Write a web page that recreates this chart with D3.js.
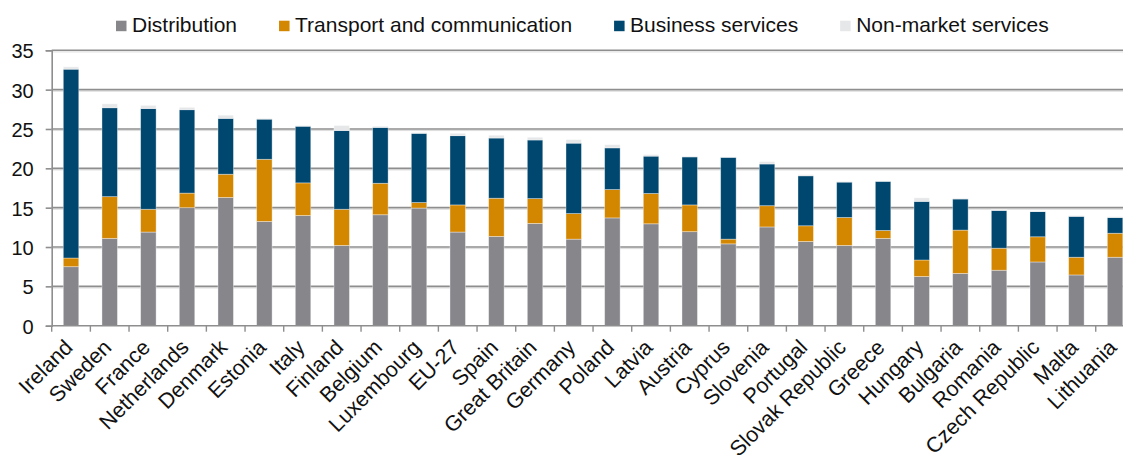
<!DOCTYPE html>
<html>
<head>
<meta charset="utf-8">
<script src="https://cdn.jsdelivr.net/npm/d3@7"></script>
<style>
  html, body { margin: 0; padding: 0; background: #ffffff; }
  svg { display: block; font-family: "Liberation Sans", Arial, Helvetica, sans-serif; }
</style>
</head>
<body>
<svg id="chart" width="1123" height="455"></svg>
<script>
// Countries, ordered by total services share
const countries = ["Ireland", "Sweden", "France", "Netherlands", "Denmark", "Estonia", "Italy",
  "Finland", "Belgium", "Luxembourg", "EU-27", "Spain", "Great Britain", "Germany", "Poland",
  "Latvia", "Austria", "Cyprus", "Slovenia", "Portugal", "Slovak Republic", "Greece", "Hungary",
  "Bulgaria", "Romania", "Czech Republic", "Malta", "Lithuania"];

// Series values per country (same order as countries)
const distribution = [7.5, 11.1, 11.9, 15.0, 16.3, 13.25, 14.0, 10.2, 14.1, 14.95, 11.9, 11.35,
  13.0, 11.0, 13.7, 12.95, 11.95, 10.4, 12.55, 10.7, 10.2, 11.1, 6.25, 6.65, 7.05, 8.1, 6.45, 8.7];
const transport = [1.1, 5.3, 2.9, 1.85, 2.95, 7.9, 4.15, 4.6, 4.0, 0.7, 3.45, 4.85,
  3.15, 3.25, 3.6, 3.85, 3.4, 0.6, 2.7, 2.0, 3.55, 1.0, 2.1, 5.5, 2.8, 3.2, 2.25, 3.05];
const business = [24.0, 11.3, 12.8, 10.6, 7.1, 5.1, 7.2, 10.0, 7.1, 8.8, 8.8, 7.65,
  7.45, 8.95, 5.3, 4.75, 6.1, 10.4, 5.3, 6.35, 4.5, 6.25, 7.45, 3.95, 4.8, 3.2, 5.2, 2.0];
const nonMarket = [0.3, 0.5, 0.4, 0.3, 0.4, 0.1, 0.1, 0.65, 0.15, 0.1, 0.3, 0.35,
  0.35, 0.45, 0.4, 0.2, 0.1, 0.05, 0.3, 0.15, 0.1, 0.05, 0.45, 0.1, 0.1, 0.1, 0.1, 0.1];

const seriesNames = ["Distribution", "Transport and communication", "Business services", "Non-market services"];
const seriesColors = ["#87868b", "#d38600", "#00476f", "#e6e7e9"];
const yTicks = [0, 5, 10, 15, 20, 25, 30, 35];

// Build the table for d3.stack
const keys = ["distribution", "transport", "business", "nonMarket"];
const table = countries.map((c, i) => ({
  country: c,
  distribution: distribution[i],
  transport: transport[i],
  business: business[i],
  nonMarket: nonMarket[i]
}));

const svg = d3.select("#chart");
const W = 1123, H = 455;
const plot = { left: 51.7, right: 1134.4, top: 50.3, bottom: 325.7 };

const x = d3.scaleBand()
  .domain(countries)
  .range([plot.left, plot.right])
  .paddingInner(0.6)
  .paddingOuter(0.3);

const y = d3.scaleLinear()
  .domain([0, 35])
  .range([plot.bottom, plot.top]);

const color = d3.scaleOrdinal().domain(keys).range(seriesColors);

svg.append("defs").append("clipPath").attr("id", "clip")
  .append("rect").attr("x", 0).attr("y", 0).attr("width", W).attr("height", H);

const g = svg.append("g").attr("clip-path", "url(#clip)");

// Horizontal gridlines with a soft lower edge
const grid = g.append("g");
yTicks.filter(t => t > 0).forEach(t => {
  grid.append("line")
    .attr("x1", plot.left).attr("x2", plot.right)
    .attr("y1", y(t) + 1.6).attr("y2", y(t) + 1.6)
    .attr("stroke", "#dcdcdc").attr("stroke-width", 1);
  grid.append("line")
    .attr("x1", plot.left).attr("x2", plot.right)
    .attr("y1", y(t)).attr("y2", y(t))
    .attr("stroke", "#8e8e8e").attr("stroke-width", 1.6);
});

// Stacked bars
const stacked = d3.stack().keys(keys)(table);
g.append("g")
  .selectAll("g")
  .data(stacked)
  .join("g")
  .attr("fill", d => color(d.key))
  .selectAll("rect")
  .data(d => d)
  .join("rect")
  .attr("x", d => x(d.data.country))
  .attr("width", x.bandwidth())
  .attr("y", d => y(d[1]))
  .attr("height", d => y(d[0]) - y(d[1]))
  .attr("stroke", "rgba(255,255,255,0.45)")
  .attr("stroke-width", 0.8);

// X axis (category boundaries as ticks)
const axisColor = "#8e8e8e";
g.append("line")
  .attr("x1", plot.left).attr("x2", plot.right)
  .attr("y1", plot.bottom).attr("y2", plot.bottom)
  .attr("stroke", axisColor).attr("stroke-width", 1.6);

const step = x.step();
const boundaries = d3.range(countries.length + 1).map(i => plot.left + i * step);
g.append("g").selectAll("line")
  .data(boundaries)
  .join("line")
  .attr("x1", d => d).attr("x2", d => d)
  .attr("y1", plot.bottom).attr("y2", plot.bottom + 6)
  .attr("stroke", axisColor).attr("stroke-width", 1.4);

// Y axis
const yAxis = d3.axisLeft(y).tickValues(yTicks).tickSize(6).tickPadding(12);
const ya = svg.append("g")
  .attr("transform", `translate(${plot.left},0)`)
  .call(yAxis);
ya.select(".domain").attr("stroke", axisColor).attr("stroke-width", 1.6);
ya.selectAll(".tick line").attr("stroke", axisColor).attr("stroke-width", 1.6);
ya.selectAll(".tick text")
  .attr("fill", "#111")
  .attr("font-size", 20)
  .attr("font-family", "Liberation Sans, Arial, sans-serif")
  .attr("dy", "0.38em");

// Category labels, rotated
svg.append("g").selectAll("text")
  .data(countries)
  .join("text")
  .attr("transform", d => `translate(${x(d) + x.bandwidth() / 2 + 3},${plot.bottom + 23}) rotate(-45)`)
  .attr("text-anchor", "end")
  .attr("font-size", 21.5)
  .attr("fill", "#111")
  .text(d => d);

// Legend
const legend = svg.append("g");
let lx = 116;
seriesNames.forEach((name, i) => {
  legend.append("rect")
    .attr("x", lx).attr("y", 20.7)
    .attr("width", 10.5).attr("height", 10.5)
    .attr("fill", seriesColors[i]);
  const t = legend.append("text")
    .attr("x", lx + 16).attr("y", 32.3)
    .attr("font-size", 21)
    .attr("fill", "#111")
    .text(name);
  lx += 16 + t.node().getComputedTextLength() + 42;
});
</script>
</body>
</html>
